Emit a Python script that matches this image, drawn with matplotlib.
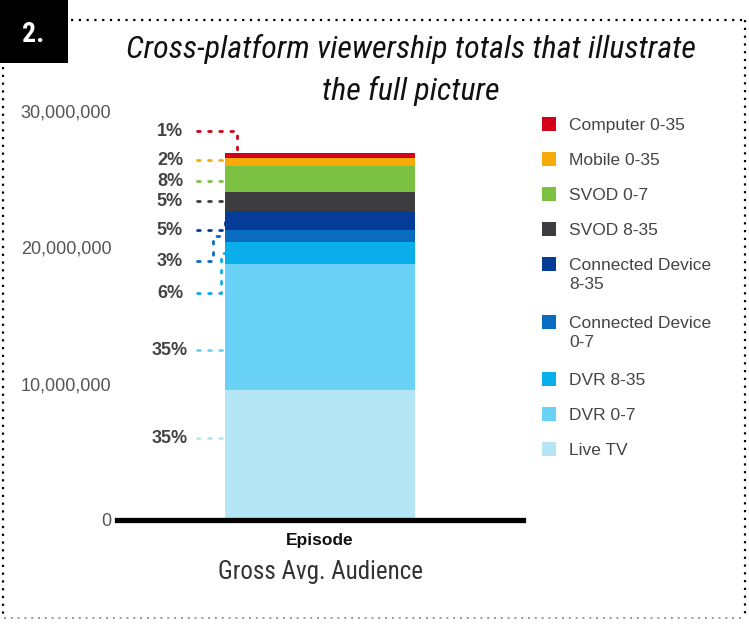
import matplotlib
matplotlib.use("Agg")
import matplotlib.pyplot as plt
from matplotlib.patches import Rectangle
from matplotlib.lines import Line2D

# ---------------- data ----------------
categories = ["Live TV", "DVR 0-7", "DVR 8-35", "Connected Device\n0-7",
              "Connected Device\n8-35", "SVOD 8-35", "SVOD 0-7", "Mobile 0-35", "Computer 0-35"]
values = [9.57e6, 9.23e6, 1.58e6, 0.86e6, 1.41e6, 1.39e6, 1.96e6, 0.56e6, 0.34e6]
pct_labels = ["35%", "35%", "6%", "3%", "5%", "5%", "8%", "2%", "1%"]
colors = ["#b5e6f6", "#6ad2f6", "#0aaeeb", "#0a6cc0", "#043c96", "#3d3d3f", "#7cc242", "#f7aa08", "#d40019"]
label_y = [6.0e6, 12.45e6, 16.63e6, 18.97e6, 21.25e6, 23.37e6, 24.84e6, 26.37e6, 28.5e6]
yticks = [0, 10_000_000, 20_000_000, 30_000_000]
ytick_labels = ["0", "10,000,000", "20,000,000", "30,000,000"]
x_label = "Episode"

narrow = "Roboto Condensed"
sans = "Liberation Sans"

W, H = 749, 624
fig = plt.figure(figsize=(W / 100, H / 100), dpi=100)

def fx(px):
    return px / W

def fy(py):
    return 1 - py / H

# ---------------- main axes ----------------
ax = fig.add_axes([fx(117), fy(520), fx(523) - fx(117), fy(111) - fy(520)])
ax.set_xlim(0, 1)
ax.set_ylim(0, 30e6)
bar_x, bar_w = 0.5, 0.468
bottom = 0
bottoms = []
for v, c in zip(values, colors):
    ax.bar(bar_x, v, bar_w, bottom=bottom, color=c, linewidth=0)
    bottoms.append(bottom)
    bottom += v
total = bottom

for s in ["top", "right", "left"]:
    ax.spines[s].set_visible(False)
ax.spines["bottom"].set_linewidth(3.8)
ax.spines["bottom"].set_color("black")
ax.set_yticks(yticks)
ax.set_yticklabels(ytick_labels, fontfamily=sans, fontsize=13, color="#555555")
ax.tick_params(axis="y", length=0, pad=4)
ax.set_xticks([bar_x])
ax.set_xticklabels([x_label], fontfamily=sans, fontsize=12.5, fontweight="bold", color="#111111")
ax.tick_params(axis="x", length=0, pad=9)

# ---------------- percent labels & leaders ----------------
bar_left = bar_x - bar_w / 2
label_x = 0.1305
lead_x = 0.197
knees = {8: 0.296, 4: 0.266, 3: 0.236, 2: 0.256}
dot = dict(linestyle=(0, (1, 3)), linewidth=2.0, clip_on=False,
           dash_capstyle="round")
for i, (lab, ly, c) in enumerate(zip(pct_labels, label_y, colors)):
    ax.text(label_x, ly, lab, ha="center", va="center", fontfamily=sans, fontsize=13,
            fontweight="bold", color="#444444")
    lo, hi = bottoms[i], bottoms[i] + values[i]
    if i == len(values) - 1:
        k = knees[i]
        ax.plot([lead_x, k, k], [ly, ly, total], color=c, **dot)
    elif i in knees:
        k = knees[i]
        mid = (lo + hi) / 2
        ax.plot([lead_x, k, k, bar_left], [ly, ly, mid, mid], color=c, **dot)
    else:
        ax.plot([lead_x, bar_left], [ly, ly], color=c, **dot)

# ---------------- legend (manual) ----------------
ly_px = 127
for cat, c in zip(categories[::-1], colors[::-1]):
    fig.patches.append(Rectangle((fx(542), fy(ly_px + 4)), fx(14), 14 / H,
                                 transform=fig.transFigure, color=c, linewidth=0))
    fig.text(fx(569), fy(ly_px - 9), cat, ha="left", va="top", fontfamily=sans,
             fontsize=12.5, color="#444444", linespacing=1.35)
    ly_px += 35 + (22.5 if "\n" in cat else 0)

# ---------------- titles & decoration ----------------
fig.text(fx(410.5), fy(58), "Cross-platform viewership totals that illustrate",
         ha="center", va="baseline", fontfamily=narrow, fontstyle="italic", fontsize=23, color="#111111")
fig.text(fx(410.5), fy(100), "the full picture",
         ha="center", va="baseline", fontfamily=narrow, fontstyle="italic", fontsize=23, color="#111111")
fig.text(fx(320), fy(572), "Gross Avg. Audience", ha="center", va="center",
         fontfamily=narrow, fontsize=18, color="#333333")

fig.patches.append(Rectangle((0, fy(63)), fx(68), 63 / H, transform=fig.transFigure,
                             color="black", linewidth=0))
fig.text(fx(33), fy(42), "2.", ha="center", va="baseline", fontfamily=narrow,
         fontweight="bold", fontsize=20, color="white")

bd = dict(linestyle=(0, (1, 2.5)), linewidth=1.6, color="black", transform=fig.transFigure)
fig.add_artist(Line2D([fx(71), fx(746)], [fy(20), fy(20)], **bd))
fig.add_artist(Line2D([fx(745), fx(745)], [fy(20), fy(618)], **bd))
fig.add_artist(Line2D([fx(3.5), fx(3.5)], [fy(67), fy(618)], **bd))
fig.add_artist(Line2D([fx(4), fx(745)], [fy(618), fy(618)], linestyle=(0, (1, 2.5)),
                      linewidth=1.4, color="#999999", transform=fig.transFigure))

fig.savefig("out.png", dpi=100)
